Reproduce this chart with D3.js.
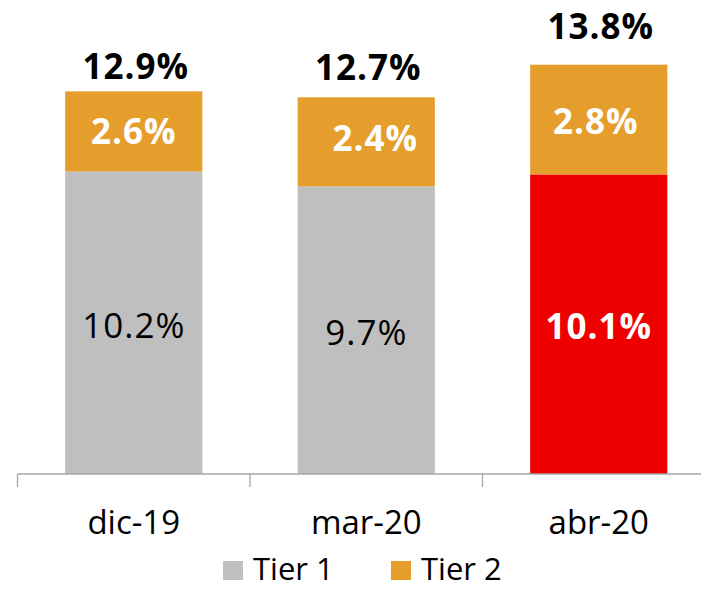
<!DOCTYPE html>
<html lang="en">
<head>
<meta charset="UTF-8">
<title>Tier 1 / Tier 2</title>
<script src="https://d3js.org/d3.v7.min.js"></script>
<style>
  body { margin: 0; background: #fff; }
  svg { display: block; font-family: "Open Sans", sans-serif; }
  .axis-line { stroke: #a6a6a6; stroke-width: 1.3px; fill: none; }
</style>
</head>
<body>
<script>
// data
const categories = ["dic-19", "mar-20", "abr-20"];
const tier1 = [10.2, 9.7, 10.1];
const tier2 = [2.6, 2.4, 2.8];
const totals = [12.9, 12.7, 13.8];
const seriesNames = ["Tier 1", "Tier 2"];

const width = 701, height = 590;
const baseY = 474;
const pxPerPct = 29.66;

const colors = { tier1: "#bfbfbf", tier2: "#e59e2b", highlight: "#ee0000" };
const highlightCat = "abr-20";

// small label tweaks so they sit where the original puts them
const totalGap = [12, 17, 26];
const tier2Nudge = [[0, 0], [9, -4], [-3, 1]];

const svg = d3.select("body").append("svg")
  .attr("width", width)
  .attr("height", height);

const x = d3.scaleBand()
  .domain(categories)
  .range([17.5, 715])
  .paddingInner(0)
  .paddingOuter(0);

const y = d3.scaleLinear()
  .domain([0, 16])
  .range([baseY, baseY - 16 * pxPerPct]);

const barW = x.bandwidth() * 0.59;
const barX = c => x(c) + (x.bandwidth() - barW) / 2;
const cx = c => x(c) + x.bandwidth() / 2;

const rows = categories.map((c, i) => ({
  cat: c, t1: tier1[i], t2: tier2[i], total: totals[i], i
}));

// tier 1 segment
svg.selectAll(".t1")
  .data(rows)
  .enter().append("rect")
  .attr("class", "t1")
  .attr("x", d => barX(d.cat))
  .attr("width", barW)
  .attr("y", d => y(d.t1))
  .attr("height", d => y(0) - y(d.t1))
  .attr("fill", d => d.cat === highlightCat ? colors.highlight : colors.tier1);

// tier 2 segment, up to the total
svg.selectAll(".t2")
  .data(rows)
  .enter().append("rect")
  .attr("class", "t2")
  .attr("x", d => barX(d.cat))
  .attr("width", barW)
  .attr("y", d => y(d.total))
  .attr("height", d => y(d.t1) - y(d.total))
  .attr("fill", colors.tier2);

const fmt = v => v.toFixed(1) + "%";

// tier 1 labels
svg.selectAll(".l1")
  .data(rows)
  .enter().append("text")
  .attr("class", "l1")
  .attr("x", d => cx(d.cat))
  .attr("y", d => (y(d.t1) + y(0)) / 2 + 15)
  .attr("text-anchor", "middle")
  .attr("font-size", 35)
  .attr("letter-spacing", 1)
  .attr("font-weight", d => d.cat === highlightCat ? 700 : 400)
  .attr("fill", d => d.cat === highlightCat ? "#fff" : "#000")
  .text(d => fmt(d.t1));

// tier 2 labels
svg.selectAll(".l2")
  .data(rows)
  .enter().append("text")
  .attr("class", "l2")
  .attr("x", d => cx(d.cat) + tier2Nudge[d.i][0])
  .attr("y", d => (y(d.total) + y(d.t1)) / 2 + 13 + tier2Nudge[d.i][1])
  .attr("text-anchor", "middle")
  .attr("font-size", 35)
  .attr("letter-spacing", 1)
  .attr("font-weight", 700)
  .attr("fill", "#fff")
  .text(d => fmt(d.t2));

// totals on top
svg.selectAll(".lt")
  .data(rows)
  .enter().append("text")
  .attr("class", "lt")
  .attr("x", d => cx(d.cat) + 2)
  .attr("y", d => y(d.total) - totalGap[d.i])
  .attr("text-anchor", "middle")
  .attr("font-size", 35)
  .attr("letter-spacing", 1)
  .attr("font-weight", 700)
  .attr("fill", "#000")
  .text(d => fmt(d.total));

// category axis
svg.append("line")
  .attr("class", "axis-line")
  .attr("x1", x.range()[0]).attr("x2", width)
  .attr("y1", baseY).attr("y2", baseY);

svg.selectAll(".btick")
  .data(categories)
  .enter().append("line")
  .attr("class", "axis-line")
  .attr("x1", d => x(d)).attr("x2", d => x(d))
  .attr("y1", baseY).attr("y2", baseY + 13);

const xAxis = svg.append("g")
  .attr("transform", `translate(0,${baseY})`)
  .call(d3.axisBottom(x).tickSize(0).tickPadding(37));
xAxis.select(".domain").remove();
xAxis.selectAll("text")
  .attr("font-family", "Open Sans, sans-serif")
  .attr("font-size", 33)
  .attr("fill", "#000");

// legend
const legendX = [223, 391];
const legend = svg.selectAll(".leg")
  .data(seriesNames)
  .enter().append("g")
  .attr("class", "leg")
  .attr("transform", (d, i) => `translate(${legendX[i]},561)`);

legend.append("rect")
  .attr("width", 20)
  .attr("height", 19)
  .attr("fill", (d, i) => i === 0 ? colors.tier1 : colors.tier2);

legend.append("text")
  .attr("x", 30)
  .attr("y", 19)
  .attr("font-size", 31)
  .attr("fill", "#000")
  .text(d => d);
</script>
</body>
</html>
